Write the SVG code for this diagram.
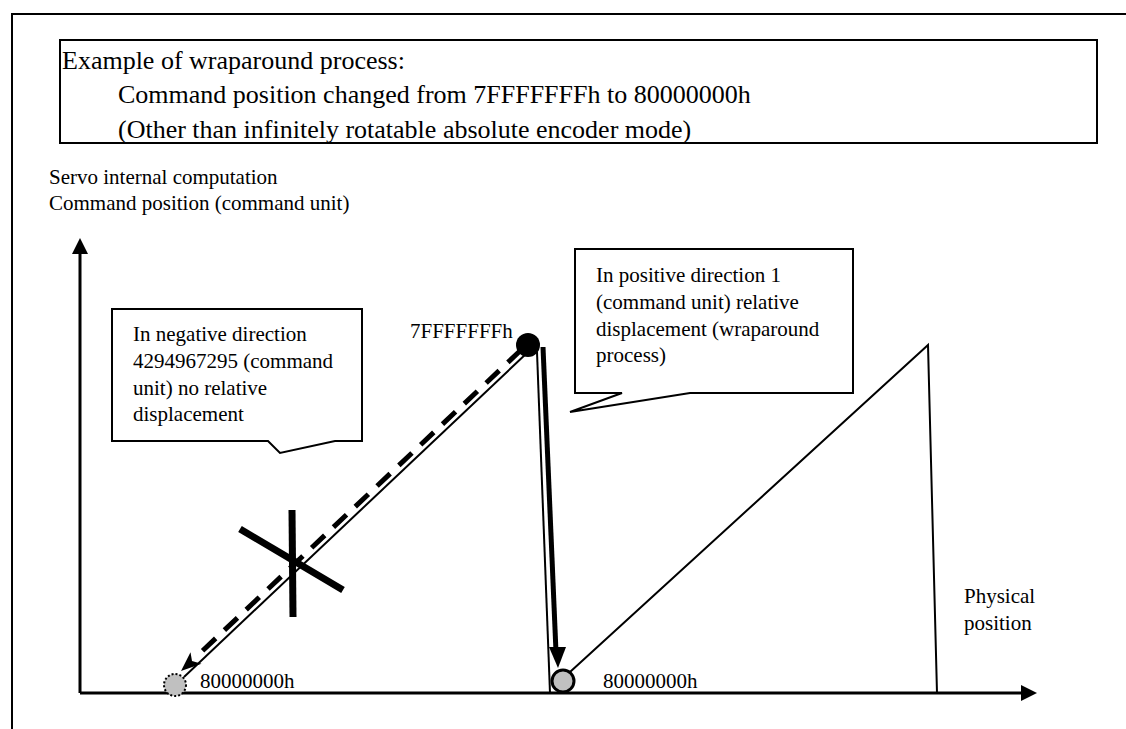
<svg xmlns="http://www.w3.org/2000/svg" width="1126" height="729" viewBox="0 0 1126 729">
<style>
text{font-family:"Liberation Serif","Times New Roman",serif;fill:#000}
.t{font-size:26px}
.s{font-size:21px}
.frame{fill:none;stroke:#000;stroke-width:2}
.thin{fill:none;stroke:#000;stroke-width:2}
.axis{fill:none;stroke:#000;stroke-width:3}
</style>
<rect width="1126" height="729" fill="#fff"/>
<g id="frame">
<polyline class="frame" points="1126,14 12,14 12,729"/>
</g>
<g id="title-box">
<rect x="60" y="40" width="1037" height="103" fill="#fff" stroke="#000" stroke-width="2"/>
<text class="t" x="62" y="69">Example of wraparound process:</text>
<text class="t" x="118" y="103">Command position changed from 7FFFFFFFh to 80000000h</text>
<text class="t" x="118" y="138">(Other than infinitely rotatable absolute encoder mode)</text>
</g>
<g id="y-label">
<text class="s" x="49" y="184">Servo internal computation</text>
<text class="s" x="49" y="210">Command position (command unit)</text>
</g>
<g id="x-label">
<text class="s" x="964" y="603">Physical</text>
<text class="s" x="964" y="630">position</text>
</g>
<g id="axes">
<line class="axis" x1="80" y1="693" x2="80" y2="252"/>
<polygon points="80,238 72,254 88,254"/>
<line class="axis" x1="80" y1="693" x2="1022" y2="693"/>
<polygon points="1037,693 1021,685 1021,701"/>
</g>
<g id="connectors">
<line class="thin" x1="184" y1="677" x2="528" y2="352"/>
<line x1="521" y1="350" x2="196" y2="657" stroke="#000" stroke-width="5" stroke-dasharray="18 12"/>
<polygon points="181,671 201.5,663.8 192,661 190.5,652.2"/>
<line class="thin" x1="537" y1="352" x2="550" y2="693"/>
<line x1="543" y1="347" x2="556" y2="652" stroke="#000" stroke-width="5"/>
<polygon points="558,668 549,647 566,647"/>
<polyline class="thin" points="570,672 928,345 937,693"/>
</g>
<g id="x-mark">
<line x1="292" y1="510" x2="293" y2="617" stroke="#000" stroke-width="7"/>
<line x1="240" y1="529" x2="343" y2="590" stroke="#000" stroke-width="7"/>
</g>
<g id="point-top">
<circle cx="528" cy="345" r="12" fill="#000"/>
<text class="s" x="410" y="338">7FFFFFFFh</text>
</g>
<g id="point-left">
<circle cx="175" cy="685" r="11" fill="#c0c0c0" stroke="#000" stroke-width="2" stroke-dasharray="2 2"/>
<text class="s" x="200" y="688">80000000h</text>
</g>
<g id="point-right">
<circle cx="563" cy="681" r="11" fill="#c0c0c0" stroke="#000" stroke-width="3"/>
<text class="s" x="603" y="688">80000000h</text>
</g>
<g id="callout-negative">
<path d="M112,309 H362 V441 H335 L280,453 L268,441 H112 Z" fill="#fff" stroke="#000" stroke-width="2"/>
<text class="s" x="133" y="341">In negative direction</text>
<text class="s" x="133" y="368">4294967295 (command</text>
<text class="s" x="133" y="395">unit) no relative</text>
<text class="s" x="133" y="421">displacement</text>
</g>
<g id="callout-positive">
<path d="M575,249 H853 V393 H690 L570,412 L622,393 H575 Z" fill="#fff" stroke="#000" stroke-width="2"/>
<text class="s" x="596" y="282">In positive direction 1</text>
<text class="s" x="596" y="309">(command unit) relative</text>
<text class="s" x="596" y="336">displacement (wraparound</text>
<text class="s" x="596" y="362">process)</text>
</g>
</svg>
